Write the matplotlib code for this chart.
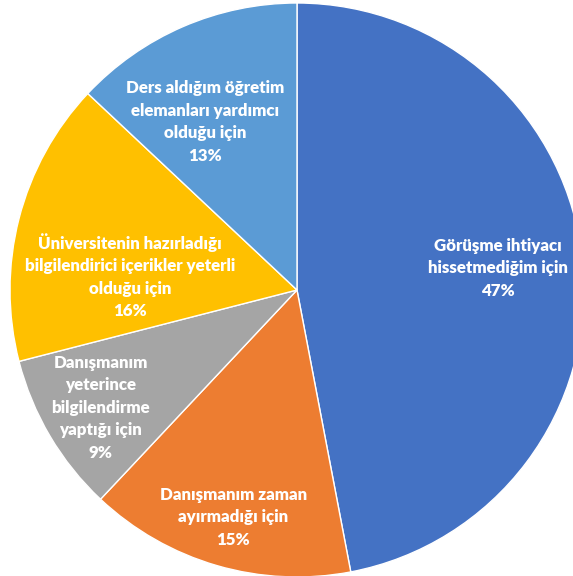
import numpy as np
import matplotlib
matplotlib.use("Agg")
import matplotlib.pyplot as plt

# Reasons for not meeting the academic advisor (share of responses, %)
labels = [
    "Görüşme ihtiyacı\nhissetmediğim için",
    "Danışmanım zaman\nayırmadığı için",
    "Danışmanım\nyeterince\nbilgilendirme\nyaptığı için",
    "Üniversitenin hazırladığı\nbilgilendirici içerikler yeterli\nolduğu için",
    "Ders aldığım öğretim\nelemanları yardımcı\nolduğu için",
]
values = [47, 15, 9, 16, 13]
colors = ["#4472C4", "#ED7D31", "#A5A5A5", "#FFC000", "#5B9BD5"]

# label placement: radial fraction and angular nudge (deg) per slice
label_r = [0.704, 0.822, 0.797, 0.585, 0.668]
label_nudge = [0.8, 0.5, 0.4, 9.6, 5.3]

W, H = 573, 576
fig = plt.figure(figsize=(W / 100, H / 100), dpi=100)
ax = fig.add_axes([0, 0, 1, 1])

cx, cy, R = 297, H - 290, 287
wedges, _ = ax.pie(
    values, colors=colors, startangle=90, counterclock=False,
    center=(cx, cy), radius=R, frame=True,
    wedgeprops=dict(edgecolor="white", linewidth=1.0),
)
ax.set_xlim(0, W)
ax.set_ylim(0, H)
ax.set_aspect("equal")
ax.axis("off")

for w, lab, v, rf, nd in zip(wedges, labels, values, label_r, label_nudge):
    mid = np.deg2rad((w.theta1 + w.theta2) / 2 + nd)
    x = cx + rf * R * np.cos(mid)
    y = cy + rf * R * np.sin(mid)
    ax.text(x, y, f"{lab}\n{v}%", ha="center", va="center",
            color="white", fontsize=12.2, fontweight="heavy",
            family=["Lato", "DejaVu Sans"], linespacing=1.5)

fig.savefig("out.png", dpi=100)
